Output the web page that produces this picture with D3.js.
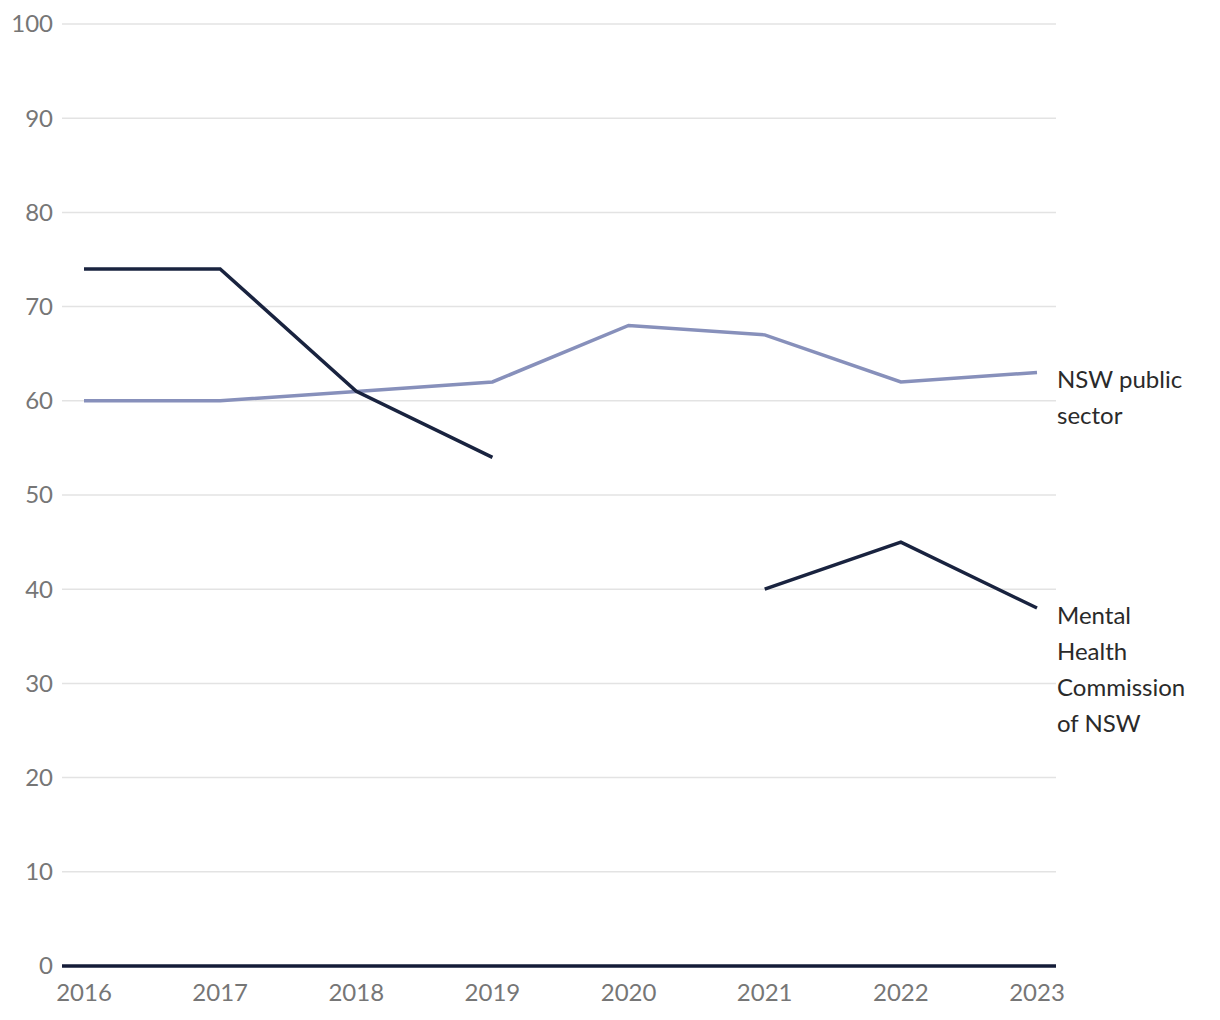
<!DOCTYPE html>
<html><head><meta charset="utf-8">
<script src="https://cdn.jsdelivr.net/npm/d3@7"></script>
<style>body{margin:0;background:#fff;} svg{display:block;}</style>
</head><body>
<svg id="c" width="1220" height="1020"></svg>
<script>
const years = [2016, 2017, 2018, 2019, 2020, 2021, 2022, 2023];
const mentalHealth = [74, 74, 61, 54, null, 40, 45, 38];
const nswPublic = [60, 60, 61, 62, 68, 67, 62, 63];
const yTicks = [0, 10, 20, 30, 40, 50, 60, 70, 80, 90, 100];
const labelNSW = ["NSW public", "sector"];
const labelMH = ["Mental", "Health", "Commission", "of NSW"];

const svg = d3.select("#c");
const font = "Lato, 'Open Sans', sans-serif";
const fs = 24;
const x = d3.scalePoint().domain(years).range([84, 1037]);
const y = d3.scaleLinear().domain([0, 100]).range([966, 24]);

// gridlines
svg.append("g").selectAll("line").data(yTicks.filter(d => d > 0)).join("line")
  .attr("x1", 62).attr("x2", 1056)
  .attr("y1", d => y(d)).attr("y2", d => y(d))
  .attr("stroke", "#e3e3e3").attr("stroke-width", 1.5);

// y labels
svg.append("g").selectAll("text").data(yTicks).join("text")
  .attr("x", 53).attr("y", d => y(d)).attr("dy", "0.35em")
  .attr("text-anchor", "end").attr("font-family", font).attr("font-size", fs)
  .attr("fill", "#767676").text(d => d);

// x labels
svg.append("g").selectAll("text").data(years).join("text")
  .attr("x", d => x(d)).attr("y", 993).attr("dy", "0.35em")
  .attr("text-anchor", "middle").attr("font-family", font).attr("font-size", fs)
  .attr("fill", "#767676").text(d => d);

// baseline
svg.append("line").attr("x1", 62).attr("x2", 1056).attr("y1", y(0)).attr("y2", y(0))
  .attr("stroke", "#141c38").attr("stroke-width", 3.5);

const line = d3.line().defined(d => d[1] != null).x(d => x(d[0])).y(d => y(d[1]));

svg.append("path").datum(years.map((yr, i) => [yr, nswPublic[i]]))
  .attr("d", line).attr("fill", "none").attr("stroke", "#8790bb").attr("stroke-width", 3.5);
svg.append("path").datum(years.map((yr, i) => [yr, mentalHealth[i]]))
  .attr("d", line).attr("fill", "none").attr("stroke", "#19233f").attr("stroke-width", 3.5);

function label(lines, y0) {
  svg.append("g").selectAll("text").data(lines).join("text")
    .attr("x", 1057).attr("y", (d, i) => y0 + i * 36).attr("dy", "0.35em")
    .attr("font-family", font).attr("font-size", fs).attr("fill", "#2a2a2a").text(d => d);
}
label(labelNSW, 380);
label(labelMH, 616);
</script>
</body></html>
